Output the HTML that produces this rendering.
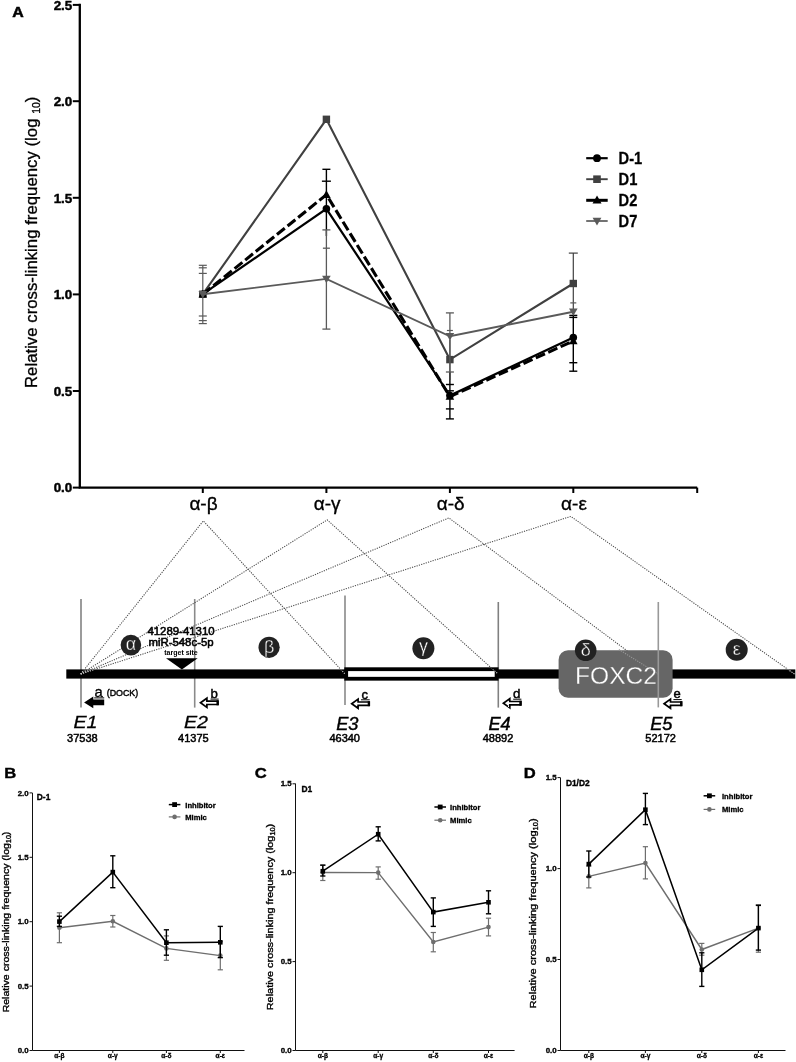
<!DOCTYPE html>
<html><head><meta charset="utf-8"><title>Figure</title>
<style>
html,body{margin:0;padding:0;background:#fff;}
svg{display:block;}
text{font-family:"Liberation Sans","DejaVu Sans",sans-serif;fill:#000;}
.b{font-weight:bold;}
.i{font-style:italic;}
.dot{stroke:#4a4a4a;stroke-width:1.05;stroke-dasharray:1.2 1.2;fill:none;}
</style></head><body>
<svg width="796" height="1062" viewBox="0 0 796 1062">
<rect width="796" height="1062" fill="#fff"/>
<g id="panelA">
<text class="b" transform="translate(12.2,17.2) scale(1.12,1)" font-size="14.2" stroke="#000" stroke-width="0.5">A</text>
<path d="M79.8 3.8 V487.6 H697.2" fill="none" stroke="#000" stroke-width="2.3" stroke-linejoin="miter"/>
<line x1="72.8" x2="79.8" y1="4.9" y2="4.9" stroke="#000" stroke-width="2"/>
<text class="b" x="72.3" y="9.7" font-size="13.4" text-anchor="end" stroke="#000" stroke-width="0.45">2.5</text>
<line x1="72.8" x2="79.8" y1="101.2" y2="101.2" stroke="#000" stroke-width="2"/>
<text class="b" x="72.3" y="106.0" font-size="13.4" text-anchor="end" stroke="#000" stroke-width="0.45">2.0</text>
<line x1="72.8" x2="79.8" y1="197.8" y2="197.8" stroke="#000" stroke-width="2"/>
<text class="b" x="72.3" y="202.6" font-size="13.4" text-anchor="end" stroke="#000" stroke-width="0.45">1.5</text>
<line x1="72.8" x2="79.8" y1="294.4" y2="294.4" stroke="#000" stroke-width="2"/>
<text class="b" x="72.3" y="299.2" font-size="13.4" text-anchor="end" stroke="#000" stroke-width="0.45">1.0</text>
<line x1="72.8" x2="79.8" y1="391.0" y2="391.0" stroke="#000" stroke-width="2"/>
<text class="b" x="72.3" y="395.8" font-size="13.4" text-anchor="end" stroke="#000" stroke-width="0.45">0.5</text>
<line x1="72.8" x2="79.8" y1="487.6" y2="487.6" stroke="#000" stroke-width="2"/>
<text class="b" x="72.3" y="492.4" font-size="13.4" text-anchor="end" stroke="#000" stroke-width="0.45">0.0</text>
<line x1="202.8" x2="202.8" y1="487.6" y2="493" stroke="#000" stroke-width="2"/>
<text x="203.5" y="510" font-size="19" text-anchor="middle" stroke="#000" stroke-width="0.35">α-β</text>
<line x1="326.4" x2="326.4" y1="487.6" y2="493" stroke="#000" stroke-width="2"/>
<text x="327.09999999999997" y="510" font-size="19" text-anchor="middle" stroke="#000" stroke-width="0.35">α-γ</text>
<line x1="449.9" x2="449.9" y1="487.6" y2="493" stroke="#000" stroke-width="2"/>
<text x="450.59999999999997" y="510" font-size="19" text-anchor="middle" stroke="#000" stroke-width="0.35">α-δ</text>
<line x1="573.3" x2="573.3" y1="487.6" y2="493" stroke="#000" stroke-width="2"/>
<text x="574.0" y="510" font-size="19" text-anchor="middle" stroke="#000" stroke-width="0.35">α-ε</text>
<line x1="697.2" x2="697.2" y1="487.6" y2="493" stroke="#000" stroke-width="2"/>
<text transform="translate(37.3,242.3) rotate(-90)" font-size="16.8" text-anchor="middle" stroke="#000" stroke-width="0.3">Relative cross-linking frequency (log <tspan font-size="10.5" dy="3">10</tspan><tspan dy="-3">)</tspan></text>
<line x1="202.8" x2="202.8" y1="265.3" y2="323.6" stroke="#5a5a5a" stroke-width="1.2"/><line x1="198.8" x2="206.8" y1="265.3" y2="265.3" stroke="#5a5a5a" stroke-width="1.2"/><line x1="198.8" x2="206.8" y1="323.6" y2="323.6" stroke="#5a5a5a" stroke-width="1.2"/>
<line x1="198.8" x2="206.8" y1="267.8" y2="267.8" stroke="#5a5a5a" stroke-width="1.2"/>
<line x1="198.8" x2="206.8" y1="273.4" y2="273.4" stroke="#5a5a5a" stroke-width="1.2"/>
<line x1="198.8" x2="206.8" y1="316" y2="316" stroke="#5a5a5a" stroke-width="1.2"/>
<line x1="198.8" x2="206.8" y1="320.6" y2="320.6" stroke="#5a5a5a" stroke-width="1.2"/>
<line x1="326.4" x2="326.4" y1="169.3" y2="236" stroke="#000" stroke-width="1.4"/><line x1="322.4" x2="330.4" y1="169.3" y2="169.3" stroke="#000" stroke-width="1.4"/>
<line x1="321.9" x2="330.9" y1="181.2" y2="181.2" stroke="#000" stroke-width="1.4"/>
<line x1="449.9" x2="449.9" y1="372" y2="418.9" stroke="#000" stroke-width="1.4"/><line x1="445.9" x2="453.9" y1="418.9" y2="418.9" stroke="#000" stroke-width="1.4"/>
<line x1="445.9" x2="453.9" y1="384.5" y2="384.5" stroke="#000" stroke-width="1.4"/>
<line x1="445.9" x2="453.9" y1="408.9" y2="408.9" stroke="#000" stroke-width="1.4"/>
<line x1="445.9" x2="453.9" y1="390.8" y2="390.8" stroke="#000" stroke-width="1.4"/>
<line x1="573.3" x2="573.3" y1="315.4" y2="371.2" stroke="#000" stroke-width="1.4"/><line x1="569.3" x2="577.3" y1="315.4" y2="315.4" stroke="#000" stroke-width="1.4"/><line x1="569.3" x2="577.3" y1="371.2" y2="371.2" stroke="#000" stroke-width="1.4"/>
<line x1="569.3" x2="577.3" y1="317.4" y2="317.4" stroke="#000" stroke-width="1.4"/>
<line x1="569.3" x2="577.3" y1="362.7" y2="362.7" stroke="#000" stroke-width="1.4"/>
<polyline points="202.8,294.2 326.4,208.8 449.9,395.5 573.3,337.5" fill="none" stroke="#000" stroke-width="2.2" stroke-linejoin="miter"/>
<circle cx="202.8" cy="294.2" r="3.8" fill="#000"/>
<circle cx="326.4" cy="208.8" r="3.8" fill="#000"/>
<circle cx="449.9" cy="395.5" r="3.8" fill="#000"/>
<circle cx="573.3" cy="337.5" r="3.8" fill="#000"/>
<line x1="573.3" x2="573.3" y1="253.1" y2="313" stroke="#404040" stroke-width="1.2"/><line x1="568.8" x2="577.8" y1="253.1" y2="253.1" stroke="#404040" stroke-width="1.2"/>
<line x1="449.9" x2="449.9" y1="340" y2="380" stroke="#404040" stroke-width="1.2"/>
<polyline points="202.8,294.2 326.4,119.3 449.9,359.6 573.3,283.5" fill="none" stroke="#404040" stroke-width="2.1" stroke-linejoin="miter"/>
<rect x="199.10000000000002" y="290.5" width="7.4" height="7.4" fill="#404040"/>
<rect x="322.7" y="115.6" width="7.4" height="7.4" fill="#404040"/>
<rect x="446.2" y="355.90000000000003" width="7.4" height="7.4" fill="#404040"/>
<rect x="569.5999999999999" y="279.8" width="7.4" height="7.4" fill="#404040"/>
<polyline points="202.8,294.2 326.4,194.7 449.9,396.6 573.3,341.0" fill="none" stroke="#000" stroke-width="3.1" stroke-linejoin="miter" stroke-dasharray="10 3.6"/>
<path d="M202.8 289.7 L207.10000000000002 297.4 H198.5 Z" fill="#000"/>
<path d="M326.4 190.2 L330.7 197.89999999999998 H322.09999999999997 Z" fill="#000"/>
<path d="M449.9 392.1 L454.2 399.8 H445.59999999999997 Z" fill="#000"/>
<path d="M573.3 336.5 L577.5999999999999 344.2 H569.0 Z" fill="#000"/>
<line x1="326.4" x2="326.4" y1="229.9" y2="329.1" stroke="#5a5a5a" stroke-width="1.3"/><line x1="322.4" x2="330.4" y1="229.9" y2="229.9" stroke="#5a5a5a" stroke-width="1.3"/><line x1="322.4" x2="330.4" y1="329.1" y2="329.1" stroke="#5a5a5a" stroke-width="1.3"/>
<line x1="322.9" x2="329.9" y1="248.2" y2="248.2" stroke="#5a5a5a" stroke-width="1.3"/>
<line x1="449.9" x2="449.9" y1="312.9" y2="372" stroke="#5a5a5a" stroke-width="1.3"/><line x1="445.9" x2="453.9" y1="312.9" y2="312.9" stroke="#5a5a5a" stroke-width="1.3"/><line x1="445.9" x2="453.9" y1="372" y2="372" stroke="#5a5a5a" stroke-width="1.3"/>
<line x1="446.9" x2="452.9" y1="330.5" y2="330.5" stroke="#5a5a5a" stroke-width="1.2"/>
<line x1="570.3" x2="576.3" y1="302.9" y2="302.9" stroke="#5a5a5a" stroke-width="1.2"/>
<polyline points="202.8,294.2 326.4,278.9 449.9,336.3 573.3,311.7" fill="none" stroke="#5a5a5a" stroke-width="1.9" stroke-linejoin="miter"/>
<path d="M202.8 298.5 L207.10000000000002 291.0 H198.5 Z" fill="#5a5a5a"/>
<path d="M326.4 283.2 L330.7 275.7 H322.09999999999997 Z" fill="#5a5a5a"/>
<path d="M449.9 340.6 L454.2 333.1 H445.59999999999997 Z" fill="#5a5a5a"/>
<path d="M573.3 316.0 L577.5999999999999 308.5 H569.0 Z" fill="#5a5a5a"/>
<line x1="586.2" x2="607.7" y1="158.2" y2="158.2" stroke="#000" stroke-width="2.2"/><circle cx="597" cy="158.2" r="3.9" fill="#000"/>
<line x1="586.2" x2="607.7" y1="179.2" y2="179.2" stroke="#404040" stroke-width="1.9"/><rect x="593.2" y="175.39999999999998" width="7.6" height="7.6" fill="#404040"/>
<line x1="586.2" x2="607.7" y1="200.3" y2="200.3" stroke="#000" stroke-width="3"/><path d="M597 195.5 L601.5 203.60000000000002 H592.5 Z" fill="#000"/>
<line x1="586.2" x2="607.7" y1="221.0" y2="221.0" stroke="#5a5a5a" stroke-width="1.7"/><path d="M597 225.5 L601.4 217.8 H592.6 Z" fill="#5a5a5a"/>
<text class="b" transform="translate(618.6,163.7) scale(0.98,1.05)" font-size="15" stroke="#000" stroke-width="0.25">D-1</text>
<text class="b" transform="translate(618.6,184.7) scale(0.98,1.05)" font-size="15" stroke="#000" stroke-width="0.25">D1</text>
<text class="b" transform="translate(618.6,205.8) scale(0.98,1.05)" font-size="15" stroke="#000" stroke-width="0.25">D2</text>
<text class="b" transform="translate(618.6,226.5) scale(0.98,1.05)" font-size="15" stroke="#000" stroke-width="0.25">D7</text>
</g>
<g id="schem">
<line x1="81.0" x2="81.0" y1="599" y2="707.6" stroke="#8a8a8a" stroke-width="1.7"/>
<line x1="194.7" x2="194.7" y1="599" y2="707.6" stroke="#8a8a8a" stroke-width="1.6"/>
<line x1="345" x2="345" y1="595.5" y2="705.1" stroke="#6e6e6e" stroke-width="1.3"/>
<line x1="498.3" x2="498.3" y1="602" y2="707.6" stroke="#808080" stroke-width="1.6"/>
<rect x="66.3" y="669.4" width="729" height="9.2" fill="#000"/>
<rect x="346.2" y="669.2" width="150.4" height="9.55" fill="#fff" stroke="#000" stroke-width="3.8"/>
<polyline class="dot" points="80.7,674 203.3,520.9 345,674"/>
<polyline class="dot" points="80.7,674 327.2,519.9 498,674"/>
<polyline class="dot" points="80.7,674 448.8,517.9 658.2,674"/>
<polyline class="dot" points="80.7,674 570.8,516.4 794.5,674"/>
<clipPath id="barclip"><rect x="66.3" y="669.4" width="729" height="9.2"/></clipPath>
<g clip-path="url(#barclip)">
<polyline class="dot" style="stroke:#bbb" points="80.7,674 203.3,520.9 345,674"/>
<polyline class="dot" style="stroke:#bbb" points="80.7,674 327.2,519.9 498,674"/>
<polyline class="dot" style="stroke:#bbb" points="80.7,674 448.8,517.9 658.2,674"/>
<polyline class="dot" style="stroke:#bbb" points="80.7,674 570.8,516.4 794.5,674"/>
</g>
<rect x="558.6" y="650.3" width="114" height="47.4" rx="9.5" fill="#666"/>
<polyline class="dot" style="stroke:#999" points="618.9,649.5 658.2,674"/>
<text x="575" y="683.6" font-size="24.6" style="fill:#fff" stroke="#666" stroke-width="0.3">FOXC2</text>
<line x1="658.3" x2="658.3" y1="602" y2="707.4" stroke="#999" stroke-width="1.6"/>
<circle cx="130.9" cy="645.1" r="10.3" fill="#222"/>
<text x="130.9" y="650.1" font-size="18" text-anchor="middle" style="fill:#fff" stroke="#222" stroke-width="0.35">α</text>
<circle cx="269.1" cy="647.3" r="10.6" fill="#222"/>
<text x="269.1" y="652.9" font-size="18" text-anchor="middle" style="fill:#fff" stroke="#222" stroke-width="0.35">β</text>
<circle cx="423.4" cy="648.3" r="11" fill="#222"/>
<text x="423.4" y="651.6999999999999" font-size="18" text-anchor="middle" style="fill:#fff" stroke="#222" stroke-width="0.35">γ</text>
<circle cx="585.7" cy="650.3" r="10.8" fill="#222"/>
<text x="585.7" y="655.9" font-size="18" text-anchor="middle" style="fill:#fff" stroke="#222" stroke-width="0.35">δ</text>
<circle cx="736.7" cy="649.8" r="11" fill="#222"/>
<text x="736.7" y="654.8" font-size="18" text-anchor="middle" style="fill:#fff" stroke="#222" stroke-width="0.35">ε</text>
<text x="181" y="635.2" font-size="11.4" text-anchor="middle" stroke="#000" stroke-width="0.55">41289-41310</text>
<text x="181" y="645.8" font-size="11.4" text-anchor="middle" stroke="#000" stroke-width="0.55">miR-548c-5p</text>
<text class="b" x="181" text-anchor="middle" y="654.8" font-size="7">target site</text>
<path d="M166 658.3 H197.7 L181.9 669.6 Z" fill="#000"/>
<path d="M84.1 702.4 L93.3 696.5 V699.5 H104.19999999999999 V705.3 H93.3 V708.3 Z" fill="#000"/>
<path d="M200.5 702.8 L206.9 698.1999999999999 V701.0999999999999 H217.7 V704.5 H206.9 V707.4 Z" fill="#fff" stroke="#000" stroke-width="1.7" stroke-linejoin="miter"/>
<line x1="217.7" x2="217.7" y1="700.3" y2="705.3" stroke="#000" stroke-width="2.4"/>
<path d="M351.7 703.7 L358.09999999999997 699.1 V702.0 H368.9 V705.4000000000001 H358.09999999999997 V708.3000000000001 Z" fill="#fff" stroke="#000" stroke-width="1.7" stroke-linejoin="miter"/>
<line x1="368.9" x2="368.9" y1="701.2" y2="706.2" stroke="#000" stroke-width="2.4"/>
<path d="M503.4 703.2 L509.79999999999995 698.6 V701.5 H520.6 V704.9000000000001 H509.79999999999995 V707.8000000000001 Z" fill="#fff" stroke="#000" stroke-width="1.7" stroke-linejoin="miter"/>
<line x1="520.6" x2="520.6" y1="700.7" y2="705.7" stroke="#000" stroke-width="2.4"/>
<path d="M664.1 703.7 L670.5 699.1 V702.0 H681.3000000000001 V705.4000000000001 H670.5 V708.3000000000001 Z" fill="#fff" stroke="#000" stroke-width="1.7" stroke-linejoin="miter"/>
<line x1="681.3000000000001" x2="681.3000000000001" y1="701.2" y2="706.2" stroke="#000" stroke-width="2.4"/>
<text x="98.5" y="696.6" font-size="14.8" text-anchor="middle" stroke="#000" stroke-width="0.3">a</text><line x1="94.2" x2="104.2" y1="697.9" y2="697.9" stroke="#000" stroke-width="1"/>
<text x="106.7" y="695.9" font-size="8.9" stroke="#000" stroke-width="0.4">(DOCK)</text>
<text x="214.2" y="697.8" font-size="13.2" text-anchor="middle" stroke="#000" stroke-width="0.45">b</text><line x1="210.5" x2="218.7" y1="699.0999999999999" y2="699.0999999999999" stroke="#000" stroke-width="1"/>
<text x="364.7" y="698.5" font-size="13" text-anchor="middle" stroke="#000" stroke-width="0.45">c</text><line x1="361" x2="369.7" y1="699.8" y2="699.8" stroke="#000" stroke-width="1"/>
<text x="516.7" y="697.9" font-size="13.4" text-anchor="middle" stroke="#000" stroke-width="0.45">d</text><line x1="513.2" x2="521.4" y1="699.1999999999999" y2="699.1999999999999" stroke="#000" stroke-width="1"/>
<text x="677" y="698.3" font-size="13" text-anchor="middle" stroke="#000" stroke-width="0.45">e</text><line x1="673.4" x2="681.7" y1="699.5999999999999" y2="699.5999999999999" stroke="#000" stroke-width="1"/>
<text class="i" transform="translate(85.5,728.1) scale(1.13,0.92)" font-size="17.4" text-anchor="middle" stroke="#000" stroke-width="0.3">E1</text>
<text class="i" transform="translate(196,728.1) scale(1.13,0.92)" font-size="17.4" text-anchor="middle" stroke="#000" stroke-width="0.3">E2</text>
<text class="i" transform="translate(347.3,729.7) scale(1.02,1)" font-size="17.9" text-anchor="middle" stroke="#000" stroke-width="0.4">E3</text>
<text class="i" transform="translate(499.6,730) scale(1.0,1)" font-size="18.1" text-anchor="middle" stroke="#000" stroke-width="0.45">E4</text>
<text class="i" transform="translate(661.3,729.7) scale(1.02,1)" font-size="17.9" text-anchor="middle" stroke="#000" stroke-width="0.4">E5</text>
<text x="82.4" y="741.9" font-size="11" text-anchor="middle" stroke="#000" stroke-width="0.5">37538</text>
<text x="193.4" y="741.9" font-size="11" text-anchor="middle" stroke="#000" stroke-width="0.5">41375</text>
<text x="344.7" y="741.9" font-size="11" text-anchor="middle" stroke="#000" stroke-width="0.5">46340</text>
<text x="498" y="741.9" font-size="11" text-anchor="middle" stroke="#000" stroke-width="0.5">48892</text>
<text x="660.6" y="741.9" font-size="11" text-anchor="middle" stroke="#000" stroke-width="0.5">52172</text>
</g>
<g id="panelB">
<text class="b" transform="translate(4.3,777.7) scale(1.12,1.03)" font-size="14.8" stroke="#000" stroke-width="0.4">B</text>
<path d="M32.5 793 V1050.5 H244.5" fill="none" stroke="#111" stroke-width="1"/>
<line x1="29.5" x2="32.5" y1="792.9" y2="792.9" stroke="#111" stroke-width="1"/>
<text class="b" transform="translate(28.7,795.5) scale(1.13,1)" font-size="7" text-anchor="end" stroke="#000" stroke-width="0.3">2.0</text>
<line x1="29.5" x2="32.5" y1="857.3" y2="857.3" stroke="#111" stroke-width="1"/>
<text class="b" transform="translate(28.7,859.9) scale(1.13,1)" font-size="7" text-anchor="end" stroke="#000" stroke-width="0.3">1.5</text>
<line x1="29.5" x2="32.5" y1="921.7" y2="921.7" stroke="#111" stroke-width="1"/>
<text class="b" transform="translate(28.7,924.3) scale(1.13,1)" font-size="7" text-anchor="end" stroke="#000" stroke-width="0.3">1.0</text>
<line x1="29.5" x2="32.5" y1="986.1" y2="986.1" stroke="#111" stroke-width="1"/>
<text class="b" transform="translate(28.7,988.7) scale(1.13,1)" font-size="7" text-anchor="end" stroke="#000" stroke-width="0.3">0.5</text>
<line x1="29.5" x2="32.5" y1="1050.5" y2="1050.5" stroke="#111" stroke-width="1"/>
<text class="b" transform="translate(28.7,1053.1) scale(1.13,1)" font-size="7" text-anchor="end" stroke="#000" stroke-width="0.3">0.0</text>
<line x1="59.4" x2="59.4" y1="1050.5" y2="1053.0" stroke="#111" stroke-width="1"/>
<text class="b" x="59.4" y="1058.1" font-size="6.6" text-anchor="middle" stroke="#000" stroke-width="0.3">α-β</text>
<line x1="112.8" x2="112.8" y1="1050.5" y2="1053.0" stroke="#111" stroke-width="1"/>
<text class="b" x="112.8" y="1058.1" font-size="6.6" text-anchor="middle" stroke="#000" stroke-width="0.3">α-γ</text>
<line x1="166.4" x2="166.4" y1="1050.5" y2="1053.0" stroke="#111" stroke-width="1"/>
<text class="b" x="166.4" y="1058.1" font-size="6.6" text-anchor="middle" stroke="#000" stroke-width="0.3">α-δ</text>
<line x1="220.3" x2="220.3" y1="1050.5" y2="1053.0" stroke="#111" stroke-width="1"/>
<text class="b" x="220.3" y="1058.1" font-size="6.6" text-anchor="middle" stroke="#000" stroke-width="0.3">α-ε</text>
<text class="b" x="36.8" y="799.6" font-size="8.4" stroke="#000" stroke-width="0.35">D-1</text>
<text transform="translate(8.8,922) rotate(-90) scale(1.066,1)" font-size="9.9" text-anchor="middle" stroke="#000" stroke-width="0.35">Relative cross-linking frequency (log<tspan font-size="6.7" dy="2.1">10</tspan><tspan dy="-2.1">)</tspan></text>
<line x1="59.4" x2="59.4" y1="912.8" y2="942.7" stroke="#6e6e6e" stroke-width="1.2"/><line x1="56.8" x2="62.0" y1="912.8" y2="912.8" stroke="#6e6e6e" stroke-width="1.2"/><line x1="56.8" x2="62.0" y1="942.7" y2="942.7" stroke="#6e6e6e" stroke-width="1.2"/>
<line x1="112.8" x2="112.8" y1="915.5" y2="927" stroke="#6e6e6e" stroke-width="1.2"/><line x1="110.2" x2="115.39999999999999" y1="915.5" y2="915.5" stroke="#6e6e6e" stroke-width="1.2"/><line x1="110.2" x2="115.39999999999999" y1="927" y2="927" stroke="#6e6e6e" stroke-width="1.2"/>
<line x1="166.4" x2="166.4" y1="935.9" y2="960.3" stroke="#6e6e6e" stroke-width="1.2"/><line x1="163.8" x2="169.0" y1="935.9" y2="935.9" stroke="#6e6e6e" stroke-width="1.2"/><line x1="163.8" x2="169.0" y1="960.3" y2="960.3" stroke="#6e6e6e" stroke-width="1.2"/>
<line x1="220.3" x2="220.3" y1="941.7" y2="969.8" stroke="#6e6e6e" stroke-width="1.2"/><line x1="217.70000000000002" x2="222.9" y1="941.7" y2="941.7" stroke="#6e6e6e" stroke-width="1.2"/><line x1="217.70000000000002" x2="222.9" y1="969.8" y2="969.8" stroke="#6e6e6e" stroke-width="1.2"/>
<polyline points="59.4,927.7 112.8,921.3 166.4,948.4 220.3,955.6" fill="none" stroke="#6e6e6e" stroke-width="1.45" stroke-linejoin="miter"/>
<circle cx="59.4" cy="927.7" r="2.3" fill="#6e6e6e"/>
<circle cx="112.8" cy="921.3" r="2.3" fill="#6e6e6e"/>
<circle cx="166.4" cy="948.4" r="2.3" fill="#6e6e6e"/>
<circle cx="220.3" cy="955.6" r="2.3" fill="#6e6e6e"/>
<line x1="59.4" x2="59.4" y1="916.2" y2="926.4" stroke="#000" stroke-width="1.4"/><line x1="56.8" x2="62.0" y1="916.2" y2="916.2" stroke="#000" stroke-width="1.4"/><line x1="56.8" x2="62.0" y1="926.4" y2="926.4" stroke="#000" stroke-width="1.4"/>
<line x1="112.8" x2="112.8" y1="855.8" y2="887.7" stroke="#000" stroke-width="1.4"/><line x1="110.2" x2="115.39999999999999" y1="855.8" y2="855.8" stroke="#000" stroke-width="1.4"/><line x1="110.2" x2="115.39999999999999" y1="887.7" y2="887.7" stroke="#000" stroke-width="1.4"/>
<line x1="166.4" x2="166.4" y1="929.8" y2="955.2" stroke="#000" stroke-width="1.4"/><line x1="163.8" x2="169.0" y1="929.8" y2="929.8" stroke="#000" stroke-width="1.4"/><line x1="163.8" x2="169.0" y1="955.2" y2="955.2" stroke="#000" stroke-width="1.4"/>
<line x1="220.3" x2="220.3" y1="926.4" y2="957.6" stroke="#000" stroke-width="1.4"/><line x1="217.70000000000002" x2="222.9" y1="926.4" y2="926.4" stroke="#000" stroke-width="1.4"/><line x1="217.70000000000002" x2="222.9" y1="957.6" y2="957.6" stroke="#000" stroke-width="1.4"/>
<polyline points="59.4,921.6 112.8,872.1 166.4,942.7 220.3,942.3" fill="none" stroke="#000" stroke-width="1.5" stroke-linejoin="miter"/>
<rect x="57.1" y="919.3000000000001" width="4.6" height="4.6" fill="#000"/>
<rect x="110.5" y="869.8000000000001" width="4.6" height="4.6" fill="#000"/>
<rect x="164.1" y="940.4000000000001" width="4.6" height="4.6" fill="#000"/>
<rect x="218.0" y="940.0" width="4.6" height="4.6" fill="#000"/>
<line x1="168.79999999999998" x2="180.4" y1="804.6" y2="804.6" stroke="#000" stroke-width="1.5"/><rect x="172.2" y="802.2" width="4.8" height="4.8" fill="#000"/>
<line x1="168.79999999999998" x2="180.4" y1="816.9" y2="816.9" stroke="#6e6e6e" stroke-width="1.2"/><circle cx="174.6" cy="816.9" r="2.3" fill="#6e6e6e"/>
<text class="b" x="185.3" y="807.5" font-size="7.6" stroke="#000" stroke-width="0.3">Inhibitor</text>
<text class="b" x="185.3" y="819.8" font-size="7.6" stroke="#000" stroke-width="0.3">Mimic</text>
</g>
<g id="panelC">
<text class="b" transform="translate(254.8,777.7) scale(1.12,1.03)" font-size="14.8" stroke="#000" stroke-width="0.4">C</text>
<path d="M295.5 783.6 V1050.5 H514.6" fill="none" stroke="#111" stroke-width="1"/>
<line x1="292.5" x2="295.5" y1="783.8" y2="783.8" stroke="#111" stroke-width="1"/>
<text class="b" transform="translate(291.7,786.4) scale(1.13,1)" font-size="7" text-anchor="end" stroke="#000" stroke-width="0.3">1.5</text>
<line x1="292.5" x2="295.5" y1="872.7" y2="872.7" stroke="#111" stroke-width="1"/>
<text class="b" transform="translate(291.7,875.3) scale(1.13,1)" font-size="7" text-anchor="end" stroke="#000" stroke-width="0.3">1.0</text>
<line x1="292.5" x2="295.5" y1="961.6" y2="961.6" stroke="#111" stroke-width="1"/>
<text class="b" transform="translate(291.7,964.2) scale(1.13,1)" font-size="7" text-anchor="end" stroke="#000" stroke-width="0.3">0.5</text>
<line x1="292.5" x2="295.5" y1="1050.5" y2="1050.5" stroke="#111" stroke-width="1"/>
<text class="b" transform="translate(291.7,1053.1) scale(1.13,1)" font-size="7" text-anchor="end" stroke="#000" stroke-width="0.3">0.0</text>
<line x1="322.8" x2="322.8" y1="1050.5" y2="1053.0" stroke="#111" stroke-width="1"/>
<text class="b" x="322.8" y="1058.1" font-size="6.6" text-anchor="middle" stroke="#000" stroke-width="0.3">α-β</text>
<line x1="378.2" x2="378.2" y1="1050.5" y2="1053.0" stroke="#111" stroke-width="1"/>
<text class="b" x="378.2" y="1058.1" font-size="6.6" text-anchor="middle" stroke="#000" stroke-width="0.3">α-γ</text>
<line x1="433.3" x2="433.3" y1="1050.5" y2="1053.0" stroke="#111" stroke-width="1"/>
<text class="b" x="433.3" y="1058.1" font-size="6.6" text-anchor="middle" stroke="#000" stroke-width="0.3">α-δ</text>
<line x1="488.5" x2="488.5" y1="1050.5" y2="1053.0" stroke="#111" stroke-width="1"/>
<text class="b" x="488.5" y="1058.1" font-size="6.6" text-anchor="middle" stroke="#000" stroke-width="0.3">α-ε</text>
<text class="b" x="301.4" y="792" font-size="8.4" stroke="#000" stroke-width="0.35">D1</text>
<text transform="translate(272.6,917) rotate(-90) scale(1.1,1)" font-size="9.9" text-anchor="middle" stroke="#000" stroke-width="0.35">Relative cross-linking frequency (log<tspan font-size="6.7" dy="2.1">10</tspan><tspan dy="-2.1">)</tspan></text>
<line x1="322.8" x2="322.8" y1="865" y2="880.5" stroke="#6e6e6e" stroke-width="1.2"/><line x1="320.2" x2="325.40000000000003" y1="865" y2="865" stroke="#6e6e6e" stroke-width="1.2"/><line x1="320.2" x2="325.40000000000003" y1="880.5" y2="880.5" stroke="#6e6e6e" stroke-width="1.2"/>
<line x1="378.2" x2="378.2" y1="866.9" y2="879.2" stroke="#6e6e6e" stroke-width="1.2"/><line x1="375.59999999999997" x2="380.8" y1="866.9" y2="866.9" stroke="#6e6e6e" stroke-width="1.2"/><line x1="375.59999999999997" x2="380.8" y1="879.2" y2="879.2" stroke="#6e6e6e" stroke-width="1.2"/>
<line x1="433.3" x2="433.3" y1="932.5" y2="951.8" stroke="#6e6e6e" stroke-width="1.2"/><line x1="430.7" x2="435.90000000000003" y1="932.5" y2="932.5" stroke="#6e6e6e" stroke-width="1.2"/><line x1="430.7" x2="435.90000000000003" y1="951.8" y2="951.8" stroke="#6e6e6e" stroke-width="1.2"/>
<line x1="488.5" x2="488.5" y1="918.2" y2="935.9" stroke="#6e6e6e" stroke-width="1.2"/><line x1="485.9" x2="491.1" y1="918.2" y2="918.2" stroke="#6e6e6e" stroke-width="1.2"/><line x1="485.9" x2="491.1" y1="935.9" y2="935.9" stroke="#6e6e6e" stroke-width="1.2"/>
<polyline points="322.8,872.5 378.2,872.6 433.3,942.0 488.5,927.1" fill="none" stroke="#6e6e6e" stroke-width="1.45" stroke-linejoin="miter"/>
<circle cx="322.8" cy="872.5" r="2.3" fill="#6e6e6e"/>
<circle cx="378.2" cy="872.6" r="2.3" fill="#6e6e6e"/>
<circle cx="433.3" cy="942" r="2.3" fill="#6e6e6e"/>
<circle cx="488.5" cy="927.1" r="2.3" fill="#6e6e6e"/>
<line x1="322.8" x2="322.8" y1="865.2" y2="876" stroke="#000" stroke-width="1.4"/><line x1="320.2" x2="325.40000000000003" y1="865.2" y2="865.2" stroke="#000" stroke-width="1.4"/><line x1="320.2" x2="325.40000000000003" y1="876" y2="876" stroke="#000" stroke-width="1.4"/>
<line x1="378.2" x2="378.2" y1="826.8" y2="840.9" stroke="#000" stroke-width="1.4"/><line x1="375.59999999999997" x2="380.8" y1="826.8" y2="826.8" stroke="#000" stroke-width="1.4"/><line x1="375.59999999999997" x2="380.8" y1="840.9" y2="840.9" stroke="#000" stroke-width="1.4"/>
<line x1="433.3" x2="433.3" y1="897.9" y2="926.4" stroke="#000" stroke-width="1.4"/><line x1="430.7" x2="435.90000000000003" y1="897.9" y2="897.9" stroke="#000" stroke-width="1.4"/><line x1="430.7" x2="435.90000000000003" y1="926.4" y2="926.4" stroke="#000" stroke-width="1.4"/>
<line x1="488.5" x2="488.5" y1="890.8" y2="913.8" stroke="#000" stroke-width="1.4"/><line x1="485.9" x2="491.1" y1="890.8" y2="890.8" stroke="#000" stroke-width="1.4"/><line x1="485.9" x2="491.1" y1="913.8" y2="913.8" stroke="#000" stroke-width="1.4"/>
<polyline points="322.8,871.2 378.2,834.2 433.3,912.1 488.5,902.3" fill="none" stroke="#000" stroke-width="1.5" stroke-linejoin="miter"/>
<rect x="320.5" y="868.9000000000001" width="4.6" height="4.6" fill="#000"/>
<rect x="375.9" y="831.9000000000001" width="4.6" height="4.6" fill="#000"/>
<rect x="431.0" y="909.8000000000001" width="4.6" height="4.6" fill="#000"/>
<rect x="486.2" y="900.0" width="4.6" height="4.6" fill="#000"/>
<line x1="434.4" x2="446.0" y1="807" y2="807" stroke="#000" stroke-width="1.5"/><rect x="437.8" y="804.6" width="4.8" height="4.8" fill="#000"/>
<line x1="434.4" x2="446.0" y1="820.2" y2="820.2" stroke="#6e6e6e" stroke-width="1.2"/><circle cx="440.2" cy="820.2" r="2.3" fill="#6e6e6e"/>
<text class="b" x="450.1" y="809.9" font-size="7.6" stroke="#000" stroke-width="0.3">Inhibitor</text>
<text class="b" x="450.1" y="823.1" font-size="7.6" stroke="#000" stroke-width="0.3">Mimic</text>
</g>
<g id="panelD">
<text class="b" transform="translate(523.8,777.7) scale(1.12,1.03)" font-size="14.8" stroke="#000" stroke-width="0.4">D</text>
<path d="M560.5 777.7 V1050.5 H785.5" fill="none" stroke="#111" stroke-width="1"/>
<line x1="557.5" x2="560.5" y1="777.6" y2="777.6" stroke="#111" stroke-width="1"/>
<text class="b" transform="translate(556.7,780.2) scale(1.13,1)" font-size="7" text-anchor="end" stroke="#000" stroke-width="0.3">1.5</text>
<line x1="557.5" x2="560.5" y1="868.6" y2="868.6" stroke="#111" stroke-width="1"/>
<text class="b" transform="translate(556.7,871.2) scale(1.13,1)" font-size="7" text-anchor="end" stroke="#000" stroke-width="0.3">1.0</text>
<line x1="557.5" x2="560.5" y1="959.5" y2="959.5" stroke="#111" stroke-width="1"/>
<text class="b" transform="translate(556.7,962.1) scale(1.13,1)" font-size="7" text-anchor="end" stroke="#000" stroke-width="0.3">0.5</text>
<line x1="557.5" x2="560.5" y1="1050.5" y2="1050.5" stroke="#111" stroke-width="1"/>
<text class="b" transform="translate(556.7,1053.1) scale(1.13,1)" font-size="7" text-anchor="end" stroke="#000" stroke-width="0.3">0.0</text>
<line x1="588.8" x2="588.8" y1="1050.5" y2="1053.0" stroke="#111" stroke-width="1"/>
<text class="b" x="588.8" y="1058.1" font-size="6.6" text-anchor="middle" stroke="#000" stroke-width="0.3">α-β</text>
<line x1="645.4" x2="645.4" y1="1050.5" y2="1053.0" stroke="#111" stroke-width="1"/>
<text class="b" x="645.4" y="1058.1" font-size="6.6" text-anchor="middle" stroke="#000" stroke-width="0.3">α-γ</text>
<line x1="701.8" x2="701.8" y1="1050.5" y2="1053.0" stroke="#111" stroke-width="1"/>
<text class="b" x="701.8" y="1058.1" font-size="6.6" text-anchor="middle" stroke="#000" stroke-width="0.3">α-δ</text>
<line x1="758.4" x2="758.4" y1="1050.5" y2="1053.0" stroke="#111" stroke-width="1"/>
<text class="b" x="758.4" y="1058.1" font-size="6.6" text-anchor="middle" stroke="#000" stroke-width="0.3">α-ε</text>
<text class="b" x="565.9" y="786.4" font-size="8.4" stroke="#000" stroke-width="0.35">D1/D2</text>
<text transform="translate(535.6,913.4) rotate(-90) scale(1.12,1)" font-size="9.9" text-anchor="middle" stroke="#000" stroke-width="0.35">Relative cross-linking frequency (log<tspan font-size="6.7" dy="2.1">10</tspan><tspan dy="-2.1">)</tspan></text>
<line x1="588.8" x2="588.8" y1="866" y2="887.9" stroke="#6e6e6e" stroke-width="1.2"/><line x1="586.1999999999999" x2="591.4" y1="866" y2="866" stroke="#6e6e6e" stroke-width="1.2"/><line x1="586.1999999999999" x2="591.4" y1="887.9" y2="887.9" stroke="#6e6e6e" stroke-width="1.2"/>
<line x1="645.4" x2="645.4" y1="846.7" y2="878.9" stroke="#6e6e6e" stroke-width="1.2"/><line x1="642.8" x2="648.0" y1="846.7" y2="846.7" stroke="#6e6e6e" stroke-width="1.2"/><line x1="642.8" x2="648.0" y1="878.9" y2="878.9" stroke="#6e6e6e" stroke-width="1.2"/>
<line x1="701.8" x2="701.8" y1="943.4" y2="955.2" stroke="#6e6e6e" stroke-width="1.2"/><line x1="699.1999999999999" x2="704.4" y1="943.4" y2="943.4" stroke="#6e6e6e" stroke-width="1.2"/><line x1="699.1999999999999" x2="704.4" y1="955.2" y2="955.2" stroke="#6e6e6e" stroke-width="1.2"/>
<line x1="758.4" x2="758.4" y1="904.7" y2="952.2" stroke="#6e6e6e" stroke-width="1.2"/><line x1="755.8" x2="761.0" y1="904.7" y2="904.7" stroke="#6e6e6e" stroke-width="1.2"/><line x1="755.8" x2="761.0" y1="952.2" y2="952.2" stroke="#6e6e6e" stroke-width="1.2"/>
<polyline points="588.8,876.4 645.4,863.0 701.8,949.5 758.4,928.1" fill="none" stroke="#6e6e6e" stroke-width="1.45" stroke-linejoin="miter"/>
<circle cx="588.8" cy="876.4" r="2.3" fill="#6e6e6e"/>
<circle cx="645.4" cy="863" r="2.3" fill="#6e6e6e"/>
<circle cx="701.8" cy="949.5" r="2.3" fill="#6e6e6e"/>
<circle cx="758.4" cy="928.1" r="2.3" fill="#6e6e6e"/>
<line x1="588.8" x2="588.8" y1="851" y2="877" stroke="#000" stroke-width="1.4"/><line x1="586.1999999999999" x2="591.4" y1="851" y2="851" stroke="#000" stroke-width="1.4"/><line x1="586.1999999999999" x2="591.4" y1="877" y2="877" stroke="#000" stroke-width="1.4"/>
<line x1="645.4" x2="645.4" y1="793.4" y2="824.6" stroke="#000" stroke-width="1.4"/><line x1="642.8" x2="648.0" y1="793.4" y2="793.4" stroke="#000" stroke-width="1.4"/><line x1="642.8" x2="648.0" y1="824.6" y2="824.6" stroke="#000" stroke-width="1.4"/>
<line x1="701.8" x2="701.8" y1="952.8" y2="986.4" stroke="#000" stroke-width="1.4"/><line x1="699.1999999999999" x2="704.4" y1="952.8" y2="952.8" stroke="#000" stroke-width="1.4"/><line x1="699.1999999999999" x2="704.4" y1="986.4" y2="986.4" stroke="#000" stroke-width="1.4"/>
<line x1="758.4" x2="758.4" y1="905.4" y2="950.1" stroke="#000" stroke-width="1.4"/><line x1="755.8" x2="761.0" y1="905.4" y2="905.4" stroke="#000" stroke-width="1.4"/><line x1="755.8" x2="761.0" y1="950.1" y2="950.1" stroke="#000" stroke-width="1.4"/>
<polyline points="588.8,864.1 645.4,809.7 701.8,969.8 758.4,928.1" fill="none" stroke="#000" stroke-width="1.5" stroke-linejoin="miter"/>
<rect x="586.5" y="861.8000000000001" width="4.6" height="4.6" fill="#000"/>
<rect x="643.1" y="807.4000000000001" width="4.6" height="4.6" fill="#000"/>
<rect x="699.5" y="967.5" width="4.6" height="4.6" fill="#000"/>
<rect x="756.1" y="925.8000000000001" width="4.6" height="4.6" fill="#000"/>
<line x1="703.6" x2="715.1999999999999" y1="795.8" y2="795.8" stroke="#000" stroke-width="1.5"/><rect x="707.0" y="793.4" width="4.8" height="4.8" fill="#000"/>
<line x1="703.6" x2="715.1999999999999" y1="809.4" y2="809.4" stroke="#6e6e6e" stroke-width="1.2"/><circle cx="709.4" cy="809.4" r="2.3" fill="#6e6e6e"/>
<text class="b" x="722" y="798.7" font-size="7.6" stroke="#000" stroke-width="0.3">Inhibitor</text>
<text class="b" x="722" y="812.3" font-size="7.6" stroke="#000" stroke-width="0.3">Mimic</text>
</g>
</svg></body></html>
